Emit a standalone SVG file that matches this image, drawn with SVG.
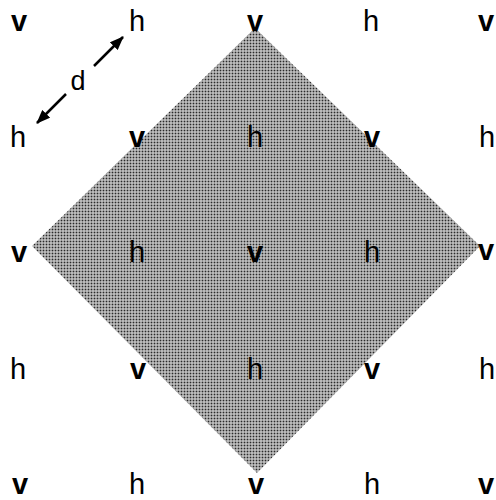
<svg xmlns="http://www.w3.org/2000/svg" width="496" height="500" viewBox="0 0 496 500">
<defs>
<pattern id="dots" width="3" height="3" patternUnits="userSpaceOnUse">
<rect width="3" height="3" fill="#d4d4d4"/>
<rect x="0.6" y="0.6" width="1.8" height="1.8" fill="#2a2a2a"/>
</pattern>
<marker id="ah" viewBox="0 0 14 11" refX="13" refY="5.5" markerWidth="14" markerHeight="11" markerUnits="userSpaceOnUse" orient="auto">
<path d="M0,0 L14,5.5 L0,11 z" fill="#000"/>
</marker>
</defs>
<style>
text{font-family:"Liberation Sans",Arial,sans-serif;font-size:29px;text-anchor:middle;fill:#000}
.v{font-weight:bold}
.h{font-weight:normal}
.d{font-size:27px}
.arr{stroke:#000;stroke-width:2.5;fill:none;marker-end:url(#ah)}
</style>
<g id="diamond">
<polygon points="255,28 480,246 257,473 32,246" fill="url(#dots)"/>
</g>
<g id="connectors">
<line class="arr" x1="94" y1="66" x2="123" y2="37"/>
<line class="arr" x1="66" y1="94" x2="37" y2="123"/>
<text class="d" x="78" y="90">d</text>
</g>
<g id="row1">
<g id="r1c1"><text class="v" x="19" y="31">v</text></g>
<g id="r1c2"><text class="h" x="137" y="31">h</text></g>
<g id="r1c3"><text class="v" x="255" y="31">v</text></g>
<g id="r1c4"><text class="h" x="371" y="31">h</text></g>
<g id="r1c5"><text class="v" x="486" y="31">v</text></g>
</g>
<g id="row2">
<g id="r2c1"><text class="h" x="18" y="147">h</text></g>
<g id="r2c2"><text class="v" x="137" y="147">v</text></g>
<g id="r2c3"><text class="h" x="255" y="147">h</text></g>
<g id="r2c4"><text class="v" x="372" y="147">v</text></g>
<g id="r2c5"><text class="h" x="487" y="147">h</text></g>
</g>
<g id="row3">
<g id="r3c1"><text class="v" x="19" y="262">v</text></g>
<g id="r3c2"><text class="h" x="137" y="262">h</text></g>
<g id="r3c3"><text class="v" x="255" y="262">v</text></g>
<g id="r3c4"><text class="h" x="372" y="262">h</text></g>
<g id="r3c5"><text class="v" x="486" y="260">v</text></g>
</g>
<g id="row4">
<g id="r4c1"><text class="h" x="18" y="379">h</text></g>
<g id="r4c2"><text class="v" x="138" y="379">v</text></g>
<g id="r4c3"><text class="h" x="255" y="379">h</text></g>
<g id="r4c4"><text class="v" x="372" y="379">v</text></g>
<g id="r4c5"><text class="h" x="487" y="379">h</text></g>
</g>
<g id="row5">
<g id="r5c1"><text class="v" x="20" y="494">v</text></g>
<g id="r5c2"><text class="h" x="137" y="494">h</text></g>
<g id="r5c3"><text class="v" x="256" y="494">v</text></g>
<g id="r5c4"><text class="h" x="372" y="494">h</text></g>
<g id="r5c5"><text class="v" x="486" y="494">v</text></g>
</g>
</svg>
